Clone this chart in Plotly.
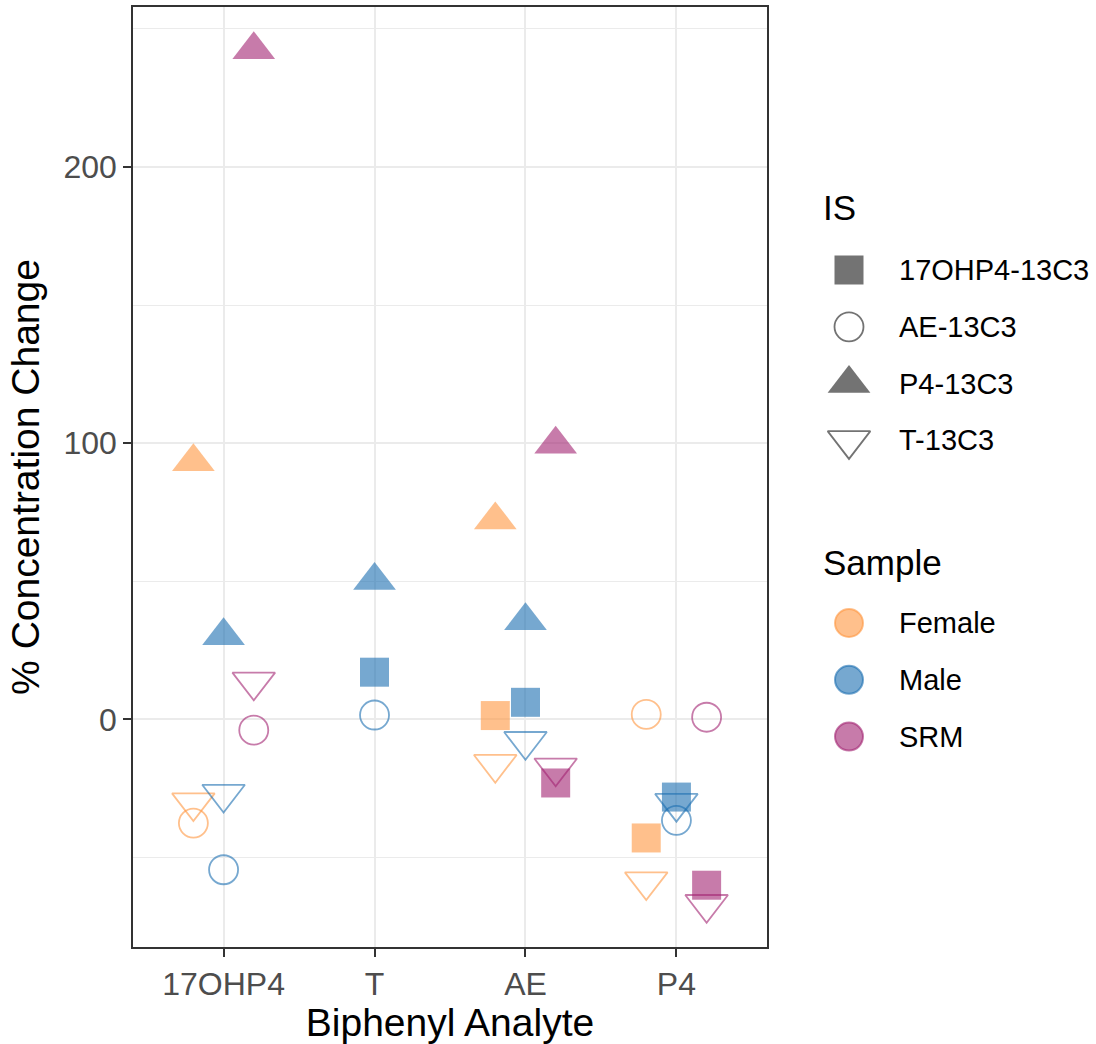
import plotly.graph_objects as go

# ---- data -------------------------------------------------------------
analytes = ["17OHP4", "T", "AE", "P4"]
samples = ["Female", "Male", "SRM"]
standards = ["17OHP4-13C3", "AE-13C3", "P4-13C3", "T-13C3"]

analyte = [
    "17OHP4", "17OHP4", "17OHP4", "17OHP4", "17OHP4", "17OHP4", "17OHP4", "17OHP4", "17OHP4",
    "T", "T", "T",
    "AE", "AE", "AE", "AE", "AE", "AE", "AE", "AE", "AE",
    "P4", "P4", "P4", "P4", "P4", "P4", "P4", "P4", "P4",
]
sample = [
    "Female", "Female", "Female", "Male", "Male", "Male", "SRM", "SRM", "SRM",
    "Male", "Male", "Male",
    "Female", "Female", "Female", "Male", "Male", "Male", "SRM", "SRM", "SRM",
    "Female", "Female", "Female", "Male", "Male", "Male", "SRM", "SRM", "SRM",
]
internal_std = [
    "P4-13C3", "T-13C3", "AE-13C3", "P4-13C3", "T-13C3", "AE-13C3", "P4-13C3", "T-13C3", "AE-13C3",
    "P4-13C3", "17OHP4-13C3", "AE-13C3",
    "P4-13C3", "17OHP4-13C3", "T-13C3", "P4-13C3", "17OHP4-13C3", "T-13C3", "P4-13C3", "T-13C3", "17OHP4-13C3",
    "AE-13C3", "17OHP4-13C3", "T-13C3", "17OHP4-13C3", "T-13C3", "AE-13C3", "AE-13C3", "17OHP4-13C3", "T-13C3",
]
pct_change = [
    93.3, -30.1, -37.5, 30.3, -27.0, -54.4, 242.4, 13.6, -3.9,
    50.3, 17.1, 1.6,
    72.2, 1.4, -16.2, 35.7, 6.2, -7.9, 99.6, -17.5, -23.0,
    1.8, -42.9, -58.7, -28.1, -30.3, -36.5, 0.8, -60.0, -66.9,
]

# ---- styling ----------------------------------------------------------
FONT = "Liberation Sans, Arial, Helvetica, sans-serif"
ALPHA = 0.6
sample_rgb = {"Female": (255, 150, 64), "Male": (27, 110, 177), "SRM": (162, 35, 113)}
dodge = {"Female": -0.2, "Male": 0.0, "SRM": 0.2}
symbol_for = {
    "17OHP4-13C3": "square",
    "AE-13C3": "circle-open",
    "P4-13C3": "triangle-up",
    "T-13C3": "triangle-down-open",
}
size_for = {"17OHP4-13C3": 29, "AE-13C3": 29, "P4-13C3": 37, "T-13C3": 37}


def rgba(rgb, a=ALPHA):
    return "rgba(%d,%d,%d,%.3f)" % (rgb + (a,))


def marker_style(std, color):
    sym = symbol_for[std]
    is_open = sym.endswith("-open")
    return dict(
        symbol=sym,
        size=size_for[std],
        color=color,
        line=dict(width=1.8 if is_open else 0, color=color),
    )


W, H = 1096, 1044
M_L, M_R, M_T, M_B = 133, 0, 7, 97
PANEL_RIGHT = 767
plot_w = W - M_L - M_R
plot_h = H - M_T - M_B
main_dom = (PANEL_RIGHT - M_L) / plot_w

fig = go.Figure()

# ---- points, dodged by sample ---------------------------------------
for i in range(len(pct_change)):
    xpos = analytes.index(analyte[i]) + 1 + dodge[sample[i]]
    col = rgba(sample_rgb[sample[i]])
    fig.add_trace(go.Scatter(
        x=[xpos], y=[pct_change[i]], mode="markers",
        marker=marker_style(internal_std[i], col),
        showlegend=False, hoverinfo="skip", xaxis="x", yaxis="y",
    ))

# y range with 5% expansion of the data span
lo, hi = min(pct_change), max(pct_change)
pad = 0.05 * (hi - lo)

# ---- legend keys on an auxiliary pixel-scaled axis ------------------
LEG_X0 = 790
KEY_X = 849
TEXT_X = 897
TITLE_X = 821
ROW = 56.8
IS_TITLE_Y, IS_FIRST_Y = 207, 270
SAMPLE_TITLE_Y, SAMPLE_FIRST_Y = 562, 623
legend_grey = "rgba(0,0,0,0.55)"

for k, std in enumerate(standards):
    fig.add_trace(go.Scatter(
        x=[KEY_X], y=[IS_FIRST_Y + k * ROW], mode="markers",
        marker=marker_style(std, legend_grey),
        showlegend=False, hoverinfo="skip", xaxis="x2", yaxis="y2",
    ))
for k, s in enumerate(samples):
    col = rgba(sample_rgb[s])
    fig.add_trace(go.Scatter(
        x=[KEY_X], y=[SAMPLE_FIRST_Y + k * ROW], mode="markers",
        marker=dict(symbol="circle", size=28, color=col, line=dict(width=2, color=col)),
        showlegend=False, hoverinfo="skip", xaxis="x2", yaxis="y2",
    ))

annotations = []


def leg_text(txt, x, y, size):
    annotations.append(dict(
        text=txt, x=x, y=y, xref="x2", yref="y2", xanchor="left", yanchor="middle",
        showarrow=False, font=dict(family=FONT, size=size, color="#000000"),
    ))


leg_text("IS", TITLE_X, IS_TITLE_Y, 35)
for k, std in enumerate(standards):
    leg_text(std, TEXT_X, IS_FIRST_Y + k * ROW, 29)
leg_text("Sample", TITLE_X, SAMPLE_TITLE_Y, 35)
for k, s in enumerate(samples):
    leg_text(s, TEXT_X, SAMPLE_FIRST_Y + k * ROW, 29)

GRID = "#EBEBEB"
BORDER = "#333333"

fig.update_layout(
    width=W, height=H,
    margin=dict(l=M_L, r=M_R, t=M_T, b=M_B, pad=0),
    paper_bgcolor="white", plot_bgcolor="white",
    font=dict(family=FONT, color="#000000"),
    showlegend=False,
    annotations=annotations,
    xaxis=dict(
        domain=[0, main_dom],
        range=[0.4, len(analytes) + 0.6],
        tickmode="array",
        tickvals=list(range(1, len(analytes) + 1)),
        ticktext=analytes,
        showgrid=True, gridcolor=GRID, gridwidth=1.6,
        zeroline=False,
        showline=True, mirror=True, linecolor=BORDER, linewidth=1.5,
        ticks="outside", ticklen=8, tickwidth=1.5, tickcolor=BORDER,
        tickfont=dict(family=FONT, size=32, color="#4D4D4D"),
        title=dict(text="Biphenyl Analyte", font=dict(family=FONT, size=39, color="#000000"), standoff=7),
    ),
    yaxis=dict(
        range=[lo - pad, hi + pad],
        tickmode="array",
        tickvals=[0, 100, 200],
        showgrid=True, gridcolor=GRID, gridwidth=1.6,
        minor=dict(tickmode="array", tickvals=[-50, 50, 150, 250], showgrid=True,
                   gridcolor=GRID, gridwidth=0.9, ticks=""),
        zeroline=False,
        showline=True, mirror=True, linecolor=BORDER, linewidth=1.5,
        ticks="outside", ticklen=8, tickwidth=1.5, tickcolor=BORDER,
        tickfont=dict(family=FONT, size=32, color="#4D4D4D"),
        title=dict(text="% Concentration Change", font=dict(family=FONT, size=39, color="#000000"), standoff=12),
    ),
    xaxis2=dict(
        domain=[(LEG_X0 - M_L) / plot_w, 1], range=[LEG_X0, W - M_R],
        visible=False, fixedrange=True, anchor="y2",
    ),
    yaxis2=dict(
        domain=[0, 1], range=[M_T + plot_h, M_T],
        visible=False, fixedrange=True, anchor="x2",
    ),
)

fig.write_html("out.html")
